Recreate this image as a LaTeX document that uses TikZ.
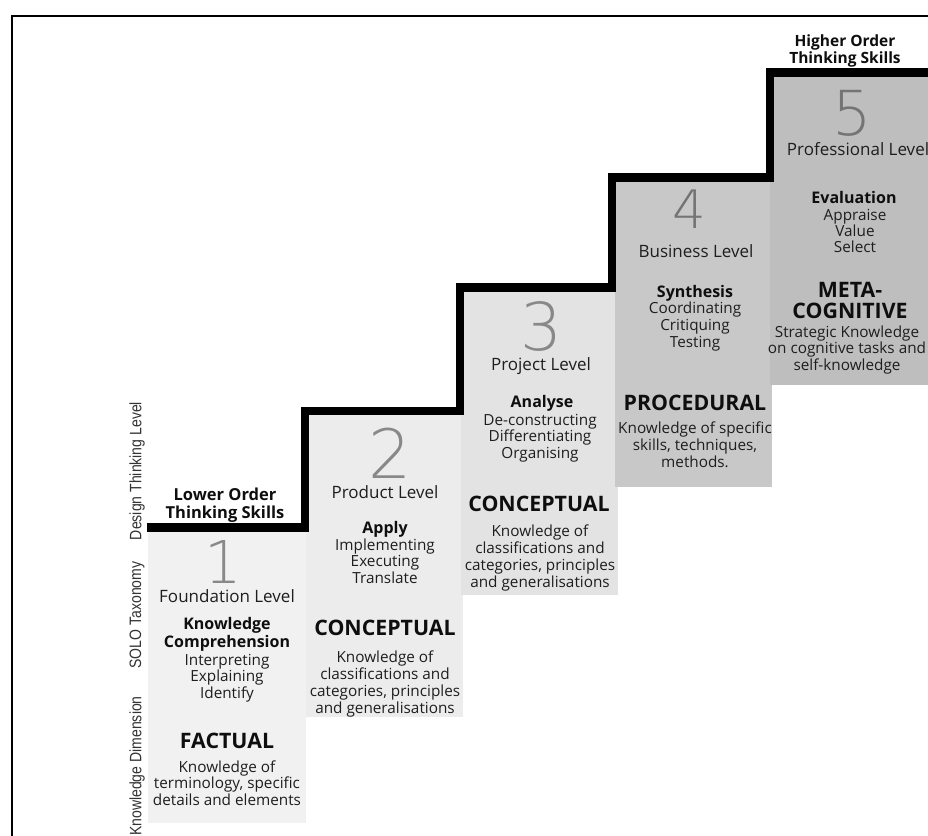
\documentclass[tikz,border=0pt]{standalone}
\usepackage{fontspec}
\setmainfont{Open Sans}
\newfontfamily\thinfont{DejaVu Sans ExtraLight}
\newfontfamily\sidefont{Liberation Sans}
\definecolor{cA}{HTML}{F1F1F1}
\definecolor{cB}{HTML}{ECECEC}
\definecolor{cC}{HTML}{E3E3E3}
\definecolor{cD}{HTML}{C8C8C8}
\definecolor{cE}{HTML}{BEBEBE}
\definecolor{txt}{HTML}{1E1E1E}
\definecolor{bld}{HTML}{0E0E0E}
\definecolor{dig}{HTML}{888888}
\definecolor{digd}{HTML}{747474}
\definecolor{sidec}{HTML}{333333}
\newcommand\txtlines[6]{%
  \foreach \t [count=\i] in {#6}{%
    \node[#5,anchor=base] (#1\i) at ({#2},{#3+(\i-1)*#4}) {\t};}}
\tikzset{
  body/.style={inner sep=0pt,text=txt,font=\fontsize{15.3}{16}\selectfont},
  lvl/.style={inner sep=0pt,text=txt,font=\fontsize{17}{17}\selectfont},
  verb/.style={inner sep=0pt,text=bld,font=\bfseries\fontsize{16}{16}\selectfont},
  head/.style={inner sep=0pt,text=bld,font=\bfseries\fontsize{16.5}{16}\selectfont},
  dim/.style={inner sep=0pt,text=bld,font=\bfseries\fontsize{21.3}{21}\selectfont},
  digit/.style={inner sep=0pt,text=dig,text depth=0pt,text height=0.72em},
  side/.style={inner sep=0pt,text=sidec,rotate=90},
  stairline/.style={line width=8.5pt,line join=miter,line cap=butt},
  frameline/.style={line width=2pt}
}
\begin{document}
\begin{tikzpicture}[x=1pt,y=-1pt]
\useasboundingbox (0,0) rectangle (928,835);
\clip (0,0) rectangle (928,835);
\fill[white] (0,0) rectangle (928,835);
% frame
\draw[frameline] (12,840) -- (12,16) -- (935,16);
% column fills
\fill[cA] (148,528) rectangle (306,823);
\fill[cB] (306,411) rectangle (463,717);
\fill[cC] (461,288) rectangle (618,595);
\fill[cD] (615,178) rectangle (772,487);
\fill[cE] (770,72) rectangle (935,385);
% stair outline
\coordinate (s0) at (147,527.5);
\coordinate (s1) at (305,527.5);
\coordinate (s2) at (305,411);
\coordinate (s3) at (460,411);
\coordinate (s4) at (460,287.5);
\coordinate (s5) at (612,287.5);
\coordinate (s6) at (612,177.5);
\coordinate (s7) at (770,177.5);
\coordinate (s8) at (770,72.5);
\coordinate (s9) at (940,72.5);
\draw[stairline] (s0) -- (s1) -- (s2) -- (s3) -- (s4) -- (s5) -- (s6) -- (s7) -- (s8) -- (s9);
% side labels
\node[side,font=\sidefont\fontsize{16.5}{16}\selectfont] (sd1) at (137,471) {\scalebox{0.85}[1]{Design Thinking Level}};
\node[side,font=\sidefont\fontsize{16.5}{16}\selectfont] (sd2) at (137,615) {\scalebox{0.85}[1]{SOLO Taxonomy}};
\node[side,font=\sidefont\fontsize{16.5}{16}\selectfont] (sd3) at (137,766) {\scalebox{0.85}[1]{Knowledge Dimension}};
% column 1
\txtlines{ha}{225}{500}{18}{head}{Lower Order,Thinking Skills}
\node[digit,anchor=base,font=\thinfont\fontsize{59}{59}\selectfont] (d1) at (223,583) {1};
\node[lvl,anchor=base] (l1) at (227,602) {Foundation Level};
\txtlines{va}{227}{629}{18}{verb}{Knowledge,Comprehension}
\txtlines{ba}{227}{665}{16.7}{body}{Interpreting,Explaining,Identify}
\node[dim,anchor=base] (m1) at (227,748) {FACTUAL};
\txtlines{ka}{227}{772}{16.6}{body}{Knowledge of,{terminology, specific},details and elements}
% column 2
\node[digit,anchor=base,font=\thinfont\fontsize{68}{68}\selectfont] (d2) at (390,478) {2};
\node[lvl,anchor=base] (l2) at (385,498) {Product Level};
\node[verb,anchor=base] (v2) at (385,533) {Apply};
\txtlines{bb}{385}{550}{16.7}{body}{Implementing,Executing,Translate}
\node[dim,anchor=base] (m2) at (385,635) {CONCEPTUAL};
\txtlines{kb}{385}{662}{17}{body}{Knowledge of,classifications and,{categories, principles},and generalisations}
% column 3
\node[digit,anchor=base,font=\thinfont\fontsize{66}{66}\selectfont] (d3) at (541,350) {3};
\node[lvl,anchor=base] (l3) at (541,370) {Project Level};
\node[verb,anchor=base] (v3) at (542,407) {Analyse};
\txtlines{bc}{540}{425}{16.7}{body}{De-constructing,Differentiating,Organising}
\node[dim,anchor=base] (m3) at (539,511) {CONCEPTUAL};
\txtlines{kc}{540}{536}{17}{body}{Knowledge of,classifications and,{categories, principles},and generalisations}
% column 4
\node[digit,anchor=base,font=\thinfont\fontsize{53}{53}\selectfont,text=digd] (d4) at (689,228) {4};
\node[lvl,anchor=base] (l4) at (696,257) {Business Level};
\node[verb,anchor=base] (v4) at (695,297) {Synthesis};
\txtlines{bd}{695}{313}{17}{body}{Coordinating,Critiquing,Testing}
\node[dim,anchor=base] (m4) at (695,410) {PROCEDURAL};
\txtlines{kd}{695}{433}{17}{body}{Knowledge of specific,{skills, techniques,},methods.}
% column 5
\txtlines{he}{845}{46}{17}{head,font=\bfseries\fontsize{15.5}{15}\selectfont}{Higher Order,Thinking Skills}
\node[digit,anchor=base,font=\thinfont\fontsize{62}{62}\selectfont,text=digd] (d5) at (852,135) {5};
\node[lvl,anchor=base] (l5) at (858,155) {Professional Level};
\node[verb,anchor=base] (v5) at (854,203) {Evaluation};
\txtlines{be}{855}{220}{16}{body}{Appraise,Value,Select}
\txtlines{me}{850}{297}{21}{dim}{META-,COGNITIVE}
\txtlines{ke}{847}{337}{16.5}{body}{Strategic Knowledge,on cognitive tasks and,self-knowledge}
\end{tikzpicture}
\end{document}
